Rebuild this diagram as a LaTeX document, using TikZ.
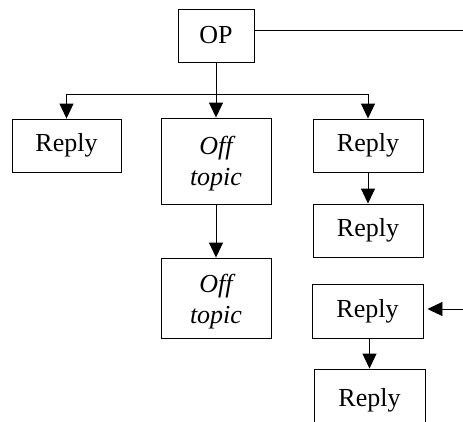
\documentclass[tikz,border=0pt]{standalone}
\usepackage{fontspec}
\setmainfont{Liberation Serif}
\usetikzlibrary{arrows.meta}
\begin{document}
\begin{tikzpicture}[x=1pt,y=-1pt,
  post/.style={draw, line width=0.9pt, inner sep=0pt, align=center,
    font=\fontsize{26}{31}\selectfont},
  offtext/.style={inner sep=0pt, align=center,
    font=\fontsize{26}{31}\selectfont\itshape},
  link/.style={line width=0.9pt},
  arr/.style={link, -{Triangle[width=14pt,length=15pt]}}]
\clip (0,0) rectangle (463,421);
\fill[white] (0,0) rectangle (463,421);

% top post and the thread below it
\node[post, minimum width=76pt, minimum height=53pt] (op) at (216,35.5) {OP};
\node[post, minimum width=109pt, minimum height=53pt] (r1) at (66.5,145.5) {Reply};
\node[post, minimum width=110pt, minimum height=86pt] (off1) at (216,161) {};
\node[post, minimum width=110pt, minimum height=53pt] (r2) at (368,145.5) {Reply};
\node[post, minimum width=110pt, minimum height=53pt] (r3) at (368,230.5) {Reply};
\node[post, minimum width=110pt, minimum height=80pt] (off2) at (216,298) {};
\node[post, minimum width=111pt, minimum height=54pt] (r4) at (367.5,311) {Reply};
\node[post, minimum width=111pt, minimum height=62pt] (r5) at (369.5,400) {Reply};

% italic text of the off-topic posts, the lower one cut by its frame
\node[offtext] (off1txt) at (216,164) {Off\\topic};
\begin{scope}
  \clip (162,259) rectangle (270,331);
  \node[offtext] (off2txt) at (216,302) {Off\\topic};
\end{scope}

% branching bar under the top post
\coordinate (bar) at (216,94);
\coordinate (opout) at (463,30);
\coordinate (inr4) at (463,309);

\draw[link] (op.east |- opout) -- (opout);
\draw[link] (op.south) -- (bar);
\draw[link] (r1.north |- bar) -- (r2.north |- bar);
\draw[arr] (r1.north |- bar) -- (r1.north);
\draw[arr] (bar) -- (off1.north);
\draw[arr] (r2.north |- bar) -- (r2.north);
\draw[arr] (off1.south) -- (off2.north);
\draw[arr] (r2.south) -- (r3.north);
\draw[arr] (inr4) -- ([xshift=4pt]r4.east |- inr4);
\draw[arr] (r4.south -| r5.north) -- (r5.north);
\end{tikzpicture}
\end{document}
